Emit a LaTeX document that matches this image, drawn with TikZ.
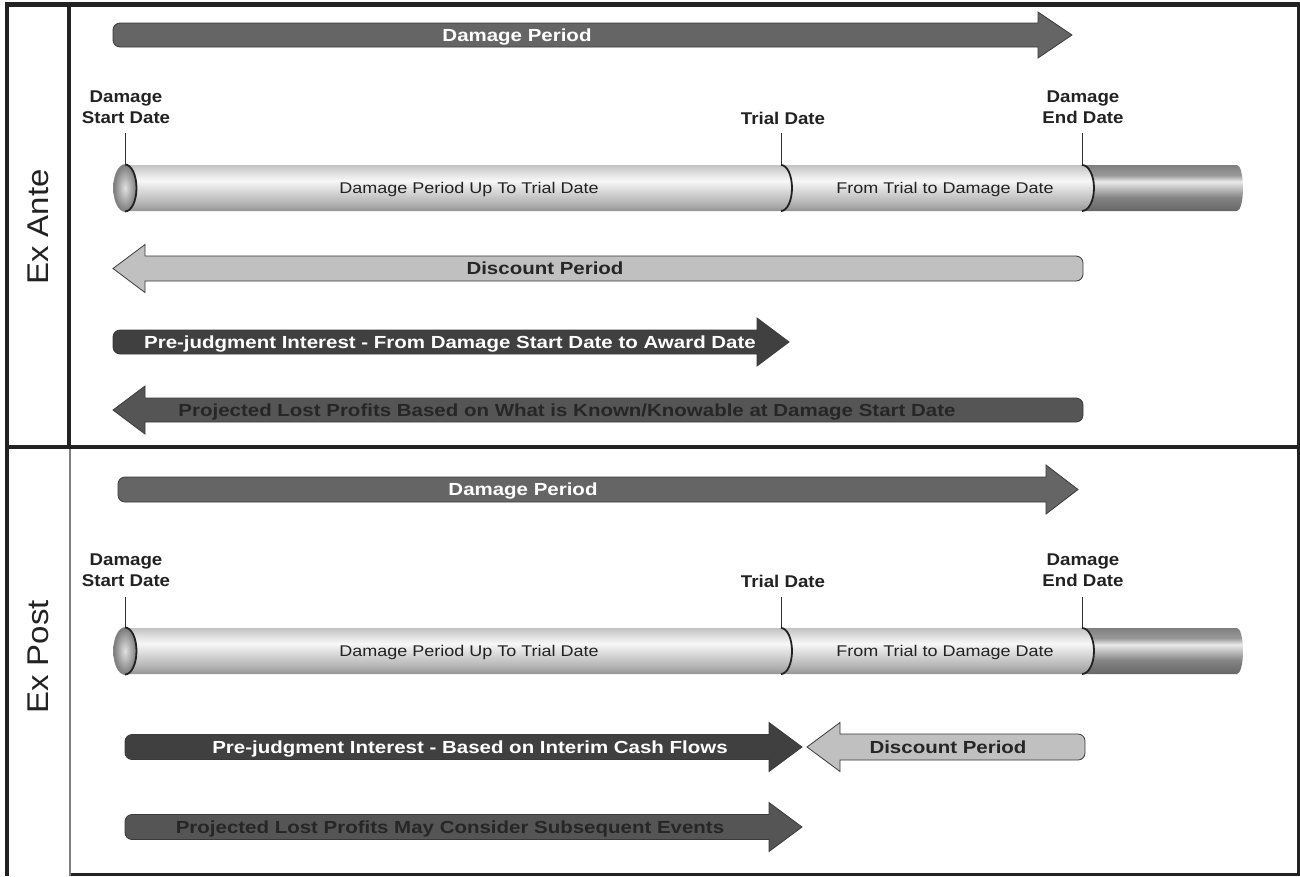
\documentclass[tikz,border=0pt]{standalone}
\usepackage{fontspec}
\newfontfamily\af[FakeStretch=1.1]{Liberation Sans}
\newfontfamily\aw[FakeStretch=1.17]{Liberation Sans}
\newfontfamily\ac[FakeStretch=1.16]{Liberation Sans}
\definecolor{frame}{HTML}{222222}
\definecolor{side}{HTML}{F0F0F0}
\definecolor{dpfill}{HTML}{656565}
\definecolor{pjfill}{HTML}{404040}
\definecolor{plfill}{HTML}{555555}
\definecolor{dcfill}{HTML}{C0C0C0}
\definecolor{outl}{HTML}{3A3A3A}
\definecolor{darktxt}{HTML}{262626}
\pgfdeclareverticalshading{cyllight}{100bp}{color(0bp)=(black!42); color(25bp)=(black!42); color(33bp)=(black!30); color(48bp)=(black!14); color(58bp)=(black!3); color(66bp)=(black!12); color(75bp)=(black!24); color(100bp)=(black!24)}
\pgfdeclareverticalshading{cyldark}{100bp}{color(0bp)=(black!60); color(25bp)=(black!60); color(40bp)=(black!48); color(57bp)=(black!8); color(64bp)=(black!40); color(75bp)=(black!50); color(100bp)=(black!50)}
% right-pointing arrow: #1 style, #2 tail x, #3 head back x, #4 tip x, #5 centre y, #6 body half height, #7 head half height
\newcommand{\rarrow}[7]{%
  \draw[#1] (#3,#5-#6) -- (#3,#5-#7) -- (#4,#5) -- (#3,#5+#7) -- (#3,#5+#6) -- (#2+7,#5+#6)
    arc[start angle=270,end angle=180,radius=7pt] -- (#2,#5-#6+7)
    arc[start angle=180,end angle=90,radius=7pt] -- cycle;}
% left-pointing arrow: tail on the right
\newcommand{\larrow}[7]{%
  \draw[#1] (#3,#5-#6) -- (#3,#5-#7) -- (#4,#5) -- (#3,#5+#7) -- (#3,#5+#6) -- (#2-7,#5+#6)
    arc[start angle=-90,end angle=0,radius=7pt] -- (#2,#5-#6+7)
    arc[start angle=0,end angle=90,radius=7pt] -- cycle;}
\newcommand{\cylinder}[1]{%
  \shade[shading=cyllight] (125,#1-23) -- (1082,#1-23) arc[start angle=90,end angle=-90,x radius=12pt,y radius=23pt] -- (125,#1+23) -- cycle;
  \shade[shading=cyldark] (1082,#1-23) arc[start angle=90,end angle=-90,x radius=12pt,y radius=23pt] -- (1237,#1+23) arc[start angle=-90,end angle=90,x radius=6pt,y radius=23pt] -- cycle;
  \draw[divider] (781,#1-23) arc[start angle=90,end angle=-90,x radius=11pt,y radius=23pt];
  \draw[divider] (1082,#1-23) arc[start angle=90,end angle=-90,x radius=12pt,y radius=23pt];
  \shade[inner color=black!12, outer color=black!52] (125,#1) ellipse[x radius=11.5pt, y radius=23.5pt];
  \draw[black!45, line width=0.6pt] (125,#1) ellipse[x radius=11.5pt, y radius=23.5pt];
  \draw[divider] (125,#1-23.5) arc[start angle=90,end angle=-90,x radius=11.5pt,y radius=23.5pt];}
\tikzset{
  arw/.style={draw=outl, line width=0.8pt, line join=miter},
  divider/.style={draw=frame, line width=1.8pt},
  tick/.style={draw=black!80, line width=0.9pt},
  lbl/.style={font=\af\bfseries\fontsize{17}{21}\selectfont, text=frame, align=center, inner sep=0pt},
  atxt/.style={font=\aw\bfseries\fontsize{17.5}{20}\selectfont, inner sep=0pt, anchor=base},
  ctxt/.style={font=\ac\fontsize{15.5}{18}\selectfont, text=frame, inner sep=0pt, anchor=base},
  side/.style={font=\af\fontsize{30}{30}\selectfont, text=frame, rotate=90, inner sep=0pt}
}
\begin{document}
\begin{tikzpicture}[x=1pt,y=-1pt]
\useasboundingbox (0,0) rectangle (1300,876);
\fill[white] (0,0) rectangle (1300,876);
% side column and frame
\fill[side] (9,6) rectangle (68,876);
\draw[frame, line width=5pt] (5,4.2) -- (1300,4.2);
\draw[frame, line width=4pt] (7,2) -- (7,876);
\draw[frame, line width=3.5pt] (1298.3,2) -- (1298.3,876);
\draw[frame, line width=3pt] (69,874.5) -- (1300,874.5);
\draw[frame, line width=4.3pt] (69,4) -- (69,447);
\draw[black!50, line width=1.2pt] (70,447) -- (70,876);
\draw[frame, line width=4pt] (5,446.5) -- (1300,446.5);
\node[side] (exante) at (38,227) {Ex Ante};
\node[side] (expost) at (38,657) {Ex Post};

% ===== Ex Ante =====
\rarrow{arw, fill=dpfill}{113}{1038}{1072}{35}{12}{23}
\node[atxt, text=white] (dp1) at (517,41) {Damage Period};

\node[lbl] (s1) at (126,107) {Damage\\Start Date};
\node[lbl, anchor=base] (t1) at (783,124) {Trial Date};
\node[lbl] (e1) at (1083,107) {Damage\\End Date};
\coordinate (s1a) at (125,133); \coordinate (s1b) at (125,165);
\coordinate (t1a) at (781,133); \coordinate (t1b) at (781,165);
\coordinate (e1a) at (1082,133); \coordinate (e1b) at (1082,165);
\draw[tick] (s1a) -- (s1b);
\draw[tick] (t1a) -- (t1b);
\draw[tick] (e1a) -- (e1b);
\cylinder{188}
\node[ctxt] (c1a) at (469,193.5) {Damage Period Up To Trial Date};
\node[ctxt] (c1b) at (945,193.5) {From Trial to Damage Date};

\larrow{arw, fill=dcfill}{1083}{145}{113}{268.5}{12.5}{24}
\node[atxt, text=darktxt] (dc1) at (545,274.5) {Discount Period};

\rarrow{arw, fill=pjfill}{113}{757}{789}{342}{12}{24}
\node[atxt, text=white] (pj1) at (450,348) {Pre-judgment Interest - From Damage Start Date to Award Date};

\larrow{arw, fill=plfill}{1083}{145}{113}{410}{12}{24}
\node[atxt, text=darktxt] (pl1) at (567,416) {Projected Lost Profits Based on What is Known/Knowable at Damage Start Date};

% ===== Ex Post =====
\rarrow{arw, fill=dpfill}{118}{1046}{1078}{489.5}{12.5}{24.5}
\node[atxt, text=white] (dp2) at (523,495.5) {Damage Period};

\node[lbl] (s2) at (126,570) {Damage\\Start Date};
\node[lbl, anchor=base] (t2) at (783,587) {Trial Date};
\node[lbl] (e2) at (1083,570) {Damage\\End Date};
\coordinate (s2a) at (125,597); \coordinate (s2b) at (125,628);
\coordinate (t2a) at (781,597); \coordinate (t2b) at (781,628);
\coordinate (e2a) at (1082,597); \coordinate (e2b) at (1082,628);
\draw[tick] (s2a) -- (s2b);
\draw[tick] (t2a) -- (t2b);
\draw[tick] (e2a) -- (e2b);
\cylinder{651}
\node[ctxt] (c2a) at (469,656.5) {Damage Period Up To Trial Date};
\node[ctxt] (c2b) at (945,656.5) {From Trial to Damage Date};

\rarrow{arw, fill=pjfill}{125}{769}{802}{747}{12.5}{24.5}
\node[atxt, text=white] (pj2) at (470,753) {Pre-judgment Interest - Based on Interim Cash Flows};

\larrow{arw, fill=dcfill}{1085}{840}{807}{747}{13}{24.5}
\node[atxt, text=darktxt] (dc2) at (948,753) {Discount Period};

\rarrow{arw, fill=plfill}{125}{769}{802}{827}{12.5}{24.5}
\node[atxt, text=darktxt] (pl2) at (450,833) {Projected Lost Profits May Consider Subsequent Events};
\end{tikzpicture}
\end{document}
